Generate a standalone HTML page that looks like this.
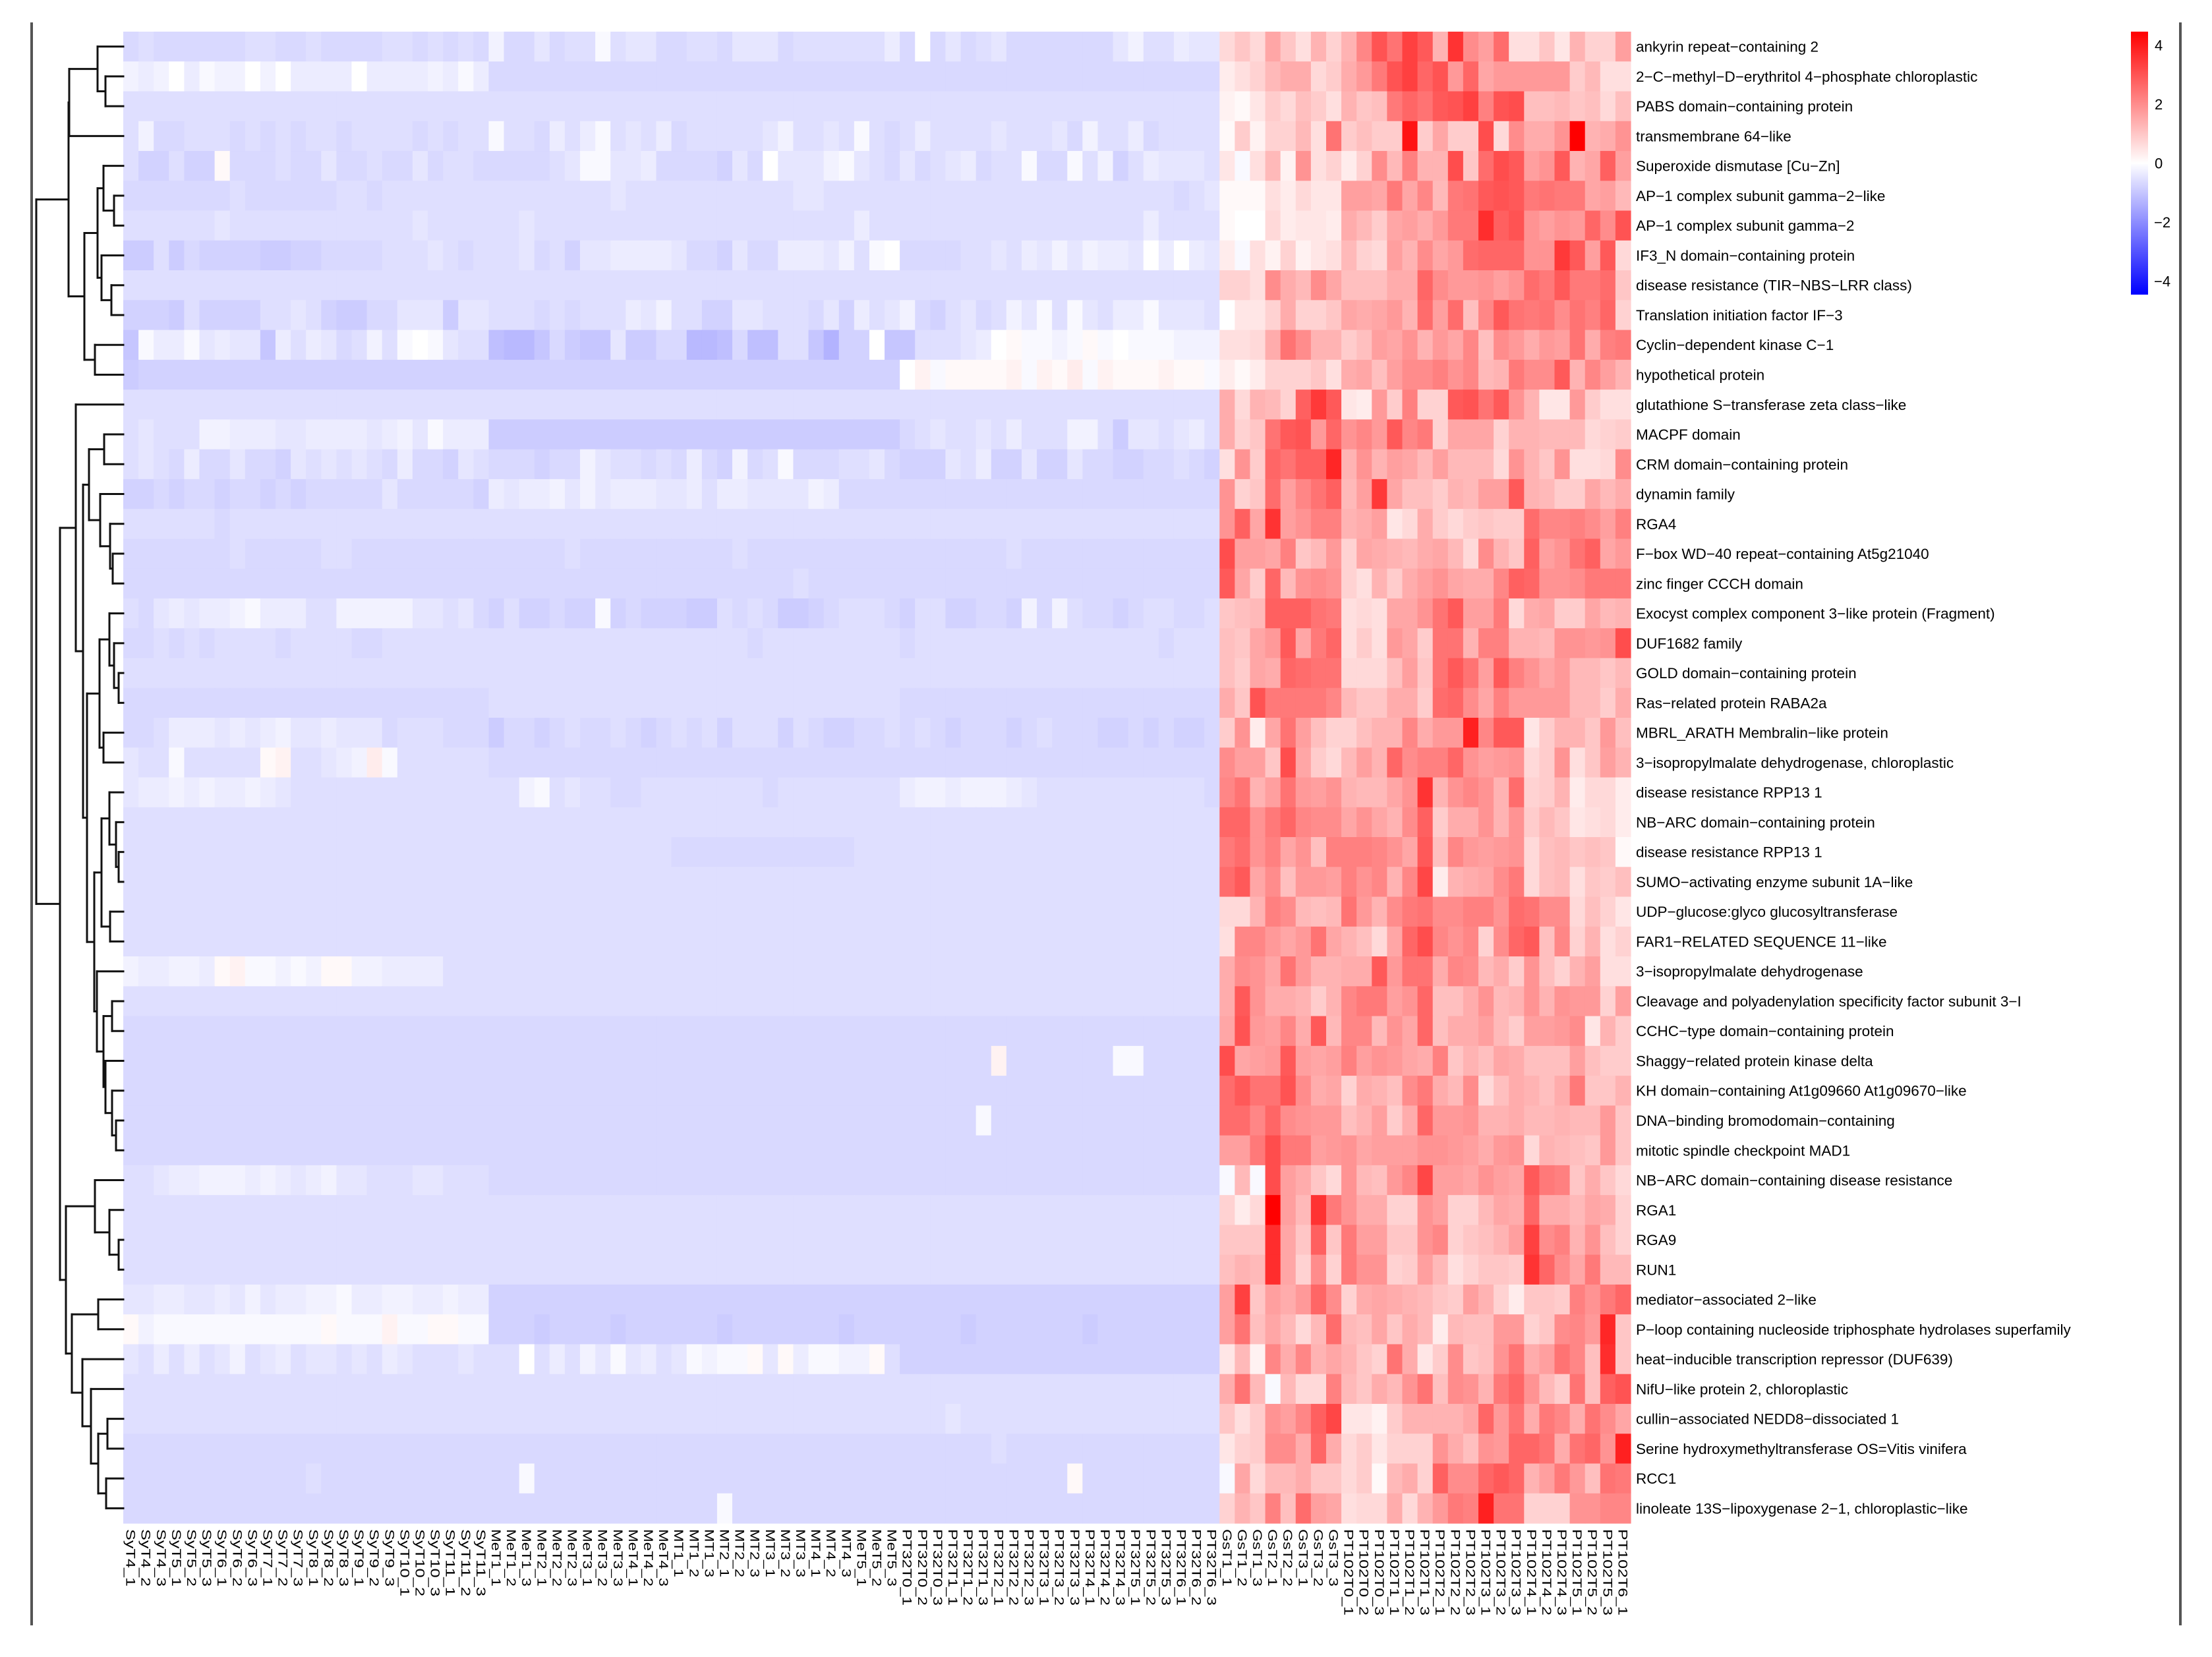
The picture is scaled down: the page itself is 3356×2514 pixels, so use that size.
<!DOCTYPE html>
<html><head><meta charset="utf-8"><style>
html,body{margin:0;padding:0;background:#fff;}
svg{display:block;font-family:"Liberation Sans",Arial,sans-serif;}
</style></head><body>
<svg id="chart" width="3356" height="2514" viewBox="0 0 3356 2514" xmlns="http://www.w3.org/2000/svg">
<rect x="0" y="0" width="3356" height="2514" fill="#fff"/>
<line x1="48" y1="34" x2="48" y2="2466" stroke="#555" stroke-width="4"/>
<line x1="3308" y1="34" x2="3308" y2="2466" stroke="#555" stroke-width="4"/>
<g id="cells"></g>
<g id="dendro"></g>
<g id="rowlabels"></g>
<g id="collabels"></g>
<g id="legend"></g>
</svg>
<script>
const rowNames = ["ankyrin repeat\u2212containing 2","2\u2212C\u2212methyl\u2212D\u2212erythritol 4\u2212phosphate chloroplastic","PABS domain\u2212containing protein","transmembrane 64\u2212like","Superoxide dismutase [Cu\u2212Zn]","AP\u22121 complex subunit gamma\u22122\u2212like","AP\u22121 complex subunit gamma\u22122","IF3_N domain\u2212containing protein","disease resistance (TIR\u2212NBS\u2212LRR class)","Translation initiation factor IF\u22123","Cyclin\u2212dependent kinase C\u22121","hypothetical protein","glutathione S\u2212transferase zeta class\u2212like","MACPF domain","CRM domain\u2212containing protein","dynamin family","RGA4","F\u2212box WD\u221240 repeat\u2212containing At5g21040","zinc finger CCCH domain","Exocyst complex component 3\u2212like protein (Fragment)","DUF1682 family","GOLD domain\u2212containing protein","Ras\u2212related protein RABA2a","MBRL_ARATH Membralin\u2212like protein","3\u2212isopropylmalate dehydrogenase, chloroplastic","disease resistance RPP13 1","NB\u2212ARC domain\u2212containing protein","disease resistance RPP13 1","SUMO\u2212activating enzyme subunit 1A\u2212like","UDP\u2212glucose:glyco glucosyltransferase","FAR1\u2212RELATED SEQUENCE 11\u2212like","3\u2212isopropylmalate dehydrogenase","Cleavage and polyadenylation specificity factor subunit 3\u2212I","CCHC\u2212type domain\u2212containing protein","Shaggy\u2212related protein kinase delta","KH domain\u2212containing At1g09660 At1g09670\u2212like","DNA\u2212binding bromodomain\u2212containing","mitotic spindle checkpoint MAD1","NB\u2212ARC domain\u2212containing disease resistance","RGA1","RGA9","RUN1","mediator\u2212associated 2\u2212like","P\u2212loop containing nucleoside triphosphate hydrolases superfamily","heat\u2212inducible transcription repressor (DUF639)","NifU\u2212like protein 2, chloroplastic","cullin\u2212associated NEDD8\u2212dissociated 1","Serine hydroxymethyltransferase OS=Vitis vinifera","RCC1","linoleate 13S\u2212lipoxygenase 2\u22121, chloroplastic\u2212like"];

const colNames = ["SyT4_1","SyT4_2","SyT4_3","SyT5_1","SyT5_2","SyT5_3","SyT6_1","SyT6_2","SyT6_3","SyT7_1","SyT7_2","SyT7_3","SyT8_1","SyT8_2","SyT8_3","SyT9_1","SyT9_2","SyT9_3","SyT10_1","SyT10_2","SyT10_3","SyT11_1","SyT11_2","SyT11_3",
"MeT1_1","MeT1_2","MeT1_3","MeT2_1","MeT2_2","MeT2_3","MeT3_1","MeT3_2","MeT3_3","MeT4_1","MeT4_2","MeT4_3",
"MT1_1","MT1_2","MT1_3","MT2_1","MT2_2","MT2_3","MT3_1","MT3_2","MT3_3","MT4_1","MT4_2","MT4_3","MeT5_1","MeT5_2","MeT5_3",
"PT32T0_1","PT32T0_2","PT32T0_3","PT32T1_1","PT32T1_2","PT32T1_3","PT32T2_1","PT32T2_2","PT32T2_3","PT32T3_1","PT32T3_2","PT32T3_3","PT32T4_1","PT32T4_2","PT32T4_3","PT32T5_1","PT32T5_2","PT32T5_3","PT32T6_1","PT32T6_2","PT32T6_3",
"GsT1_1","GsT1_2","GsT1_3","GsT2_1","GsT2_2","GsT3_1","GsT3_2","GsT3_3",
"PT102T0_1","PT102T0_2","PT102T0_3","PT102T1_1","PT102T1_2","PT102T1_3","PT102T2_1","PT102T2_2","PT102T2_3","PT102T3_1","PT102T3_2","PT102T3_3","PT102T4_1","PT102T4_2","PT102T4_3","PT102T5_1","PT102T5_2","PT102T5_3","PT102T6_1"];

const legendTicks = [4, 2, 0, -2, -4];

// z-scores x10, first 72 columns (Sy, Me, PT32 samples)
const lowVals = [
[-6,-5,-6,-6,-6,-6,-6,-6,-5,-5,-6,-6,-5,-6,-6,-6,-6,-5,-5,-6,-5,-6,-5,-6, -2,-6,-6,-4,-6,-5,-5,-1,-5,-4,-4,-6,-6,-5,-5,-6,-4,-4,-4,-6,-5,-5,-5,-5,-5,-5,-3, -6,0,-6,-4,-6,-5,-4,-6,-6,-6,-6,-6,-6,-6,-4,-2,-5,-5,-3,-4,-4],
[-2,-3,-2,0,-3,-1,-2,-2,0,-2,0,-3,-3,-3,-3,0,-3,-3,-3,-3,-2,-3,-1,-3, -6,-6,-6,-6,-6,-6,-6,-6,-6,-6,-6,-6,-6,-6,-6,-6,-6,-6,-6,-6,-6,-6,-6,-6,-6,-6,-6, -6,-6,-6,-6,-6,-6,-6,-6,-6,-6,-6,-6,-6,-6,-6,-6,-6,-6,-6,-6,-6],
[-5,-5,-5,-5,-5,-5,-5,-5,-5,-5,-5,-5,-5,-5,-5,-5,-5,-5,-5,-5,-5,-5,-5,-5, -5,-5,-5,-5,-5,-5,-5,-5,-5,-5,-5,-5,-5,-5,-5,-5,-5,-5,-5,-5,-5,-5,-5,-5,-5,-5,-5, -5,-5,-5,-5,-5,-5,-5,-5,-5,-5,-5,-5,-5,-5,-5,-5,-5,-5,-5,-5,-5],
[-5,-2,-6,-6,-5,-5,-5,-6,-5,-6,-5,-6,-5,-5,-6,-5,-5,-5,-5,-6,-5,-6,-5,-5, -1,-5,-5,-6,-3,-5,-3,-1,-5,-4,-5,-3,-6,-5,-5,-5,-5,-5,-4,-2,-5,-5,-4,-5,-1,-5,-6, -5,-3,-5,-5,-5,-5,-4,-5,-5,-5,-4,-6,-2,-5,-5,-3,-6,-5,-5,-5,-5],
[-5,-7,-7,-5,-7,-7,1,-6,-6,-6,-5,-6,-6,-4,-6,-6,-5,-6,-6,-4,-6,-5,-5,-6, -6,-6,-6,-6,-5,-4,-1,-1,-4,-4,-3,-6,-6,-6,-6,-7,-4,-6,0,-4,-4,-4,-2,-1,-4,-5,-6, -4,-6,-5,-4,-3,-6,-5,-5,-1,-6,-6,-1,-5,-2,-7,-5,-3,-4,-4,-4,-5],
[-6,-6,-6,-6,-6,-6,-6,-5,-6,-6,-6,-6,-6,-6,-5,-5,-6,-5,-5,-5,-5,-5,-5,-5, -5,-5,-5,-5,-5,-5,-5,-5,-4,-5,-5,-5,-5,-5,-5,-5,-5,-5,-5,-5,-4,-4,-5,-5,-5,-5,-5, -5,-5,-5,-5,-5,-5,-5,-5,-5,-5,-5,-5,-5,-5,-5,-5,-5,-5,-6,-5,-4],
[-5,-5,-5,-5,-5,-5,-4,-5,-5,-5,-5,-5,-5,-5,-5,-5,-5,-5,-5,-4,-5,-5,-5,-5, -5,-5,-4,-5,-5,-5,-5,-5,-5,-5,-5,-5,-5,-5,-5,-5,-5,-5,-5,-5,-5,-5,-5,-5,-3,-5,-5, -5,-5,-5,-5,-5,-5,-5,-5,-5,-5,-5,-5,-5,-5,-5,-5,-3,-5,-5,-5,-5],
[-8,-8,-5,-8,-6,-7,-7,-7,-7,-8,-8,-7,-7,-6,-6,-6,-6,-5,-5,-5,-4,-5,-6,-5, -5,-5,-4,-6,-5,-7,-4,-4,-3,-3,-3,-3,-4,-6,-6,-7,-4,-6,-6,-3,-3,-3,-4,-2,-5,-1,0, -6,-6,-6,-6,-5,-5,-4,-5,-3,-4,-2,-4,-2,-3,-3,-4,0,-3,0,-3,-4],
[-5,-5,-5,-5,-5,-5,-5,-5,-5,-5,-5,-5,-5,-5,-5,-5,-5,-5,-5,-5,-5,-5,-5,-5, -5,-5,-5,-5,-5,-5,-5,-5,-5,-5,-5,-5,-5,-5,-5,-5,-5,-5,-5,-5,-5,-5,-5,-5,-5,-5,-5, -5,-5,-5,-5,-5,-5,-5,-5,-5,-5,-5,-5,-5,-5,-5,-5,-5,-5,-5,-5,-5],
[-7,-7,-7,-8,-5,-7,-7,-7,-7,-5,-5,-4,-5,-7,-8,-8,-6,-6,-4,-4,-4,-8,-4,-4, -5,-5,-5,-6,-5,-6,-5,-5,-5,-3,-4,-2,-5,-5,-7,-7,-4,-4,-5,-5,-5,-6,-4,-7,-3,-5,-4, -2,-6,-7,-5,-4,-6,-5,-2,-4,-1,-5,-1,-4,-5,-3,-3,-1,-4,-4,-4,-5],
[-9,-1,-3,-3,-1,-4,-3,-4,-4,-9,-3,-5,-3,-4,-6,-5,-2,-5,-1,0,-1,-4,-5,-5, -10,-11,-11,-9,-6,-8,-9,-9,-4,-8,-8,-6,-6,-11,-11,-10,-6,-10,-10,-5,-5,-9,-12,-7,-7,0,-9, -9,-5,-5,-5,-4,-3,0,1,-1,-1,-2,-1,1,-1,0,-1,-1,-1,-2,-2,-2],
[-8,-7,-7,-7,-7,-7,-7,-7,-7,-7,-7,-7,-7,-7,-7,-7,-7,-7,-7,-7,-7,-7,-7,-7, -7,-7,-7,-7,-7,-7,-7,-7,-7,-7,-7,-7,-7,-7,-7,-7,-7,-7,-7,-7,-7,-7,-7,-7,-7,-7,-7, 0,2,-1,1,1,1,1,2,-1,2,1,3,-1,2,1,1,1,2,1,1,-1],
[-5,-5,-5,-5,-5,-5,-5,-5,-5,-5,-5,-5,-5,-5,-5,-5,-5,-5,-5,-5,-5,-5,-5,-5, -5,-5,-5,-5,-5,-5,-5,-5,-5,-5,-5,-5,-5,-5,-5,-5,-5,-5,-5,-5,-5,-5,-5,-5,-5,-5,-5, -5,-5,-5,-5,-5,-5,-5,-5,-5,-5,-5,-5,-5,-5,-5,-5,-5,-5,-5,-5,-5],
[-5,-4,-5,-5,-5,-2,-2,-3,-3,-3,-4,-4,-3,-3,-3,-3,-4,-3,-2,-4,-1,-3,-3,-3, -8,-8,-8,-8,-8,-8,-8,-8,-8,-8,-8,-8,-8,-8,-8,-8,-8,-8,-8,-8,-8,-8,-8,-8,-8,-8,-8, -6,-5,-4,-5,-5,-4,-5,-3,-5,-5,-5,-2,-2,-5,-8,-4,-4,-5,-4,-3,-5],
[-5,-4,-5,-6,-3,-6,-6,-4,-6,-6,-7,-4,-5,-4,-5,-4,-5,-6,-3,-6,-6,-7,-4,-5, -6,-6,-6,-7,-6,-6,-2,-4,-5,-5,-6,-5,-6,-3,-6,-7,-2,-6,-5,-1,-6,-6,-6,-5,-5,-4,-6, -7,-7,-7,-4,-5,-3,-7,-7,-4,-7,-7,-4,-6,-6,-7,-7,-6,-6,-5,-6,-7],
[-7,-7,-6,-7,-6,-6,-7,-6,-6,-7,-6,-7,-6,-6,-6,-6,-6,-4,-6,-6,-6,-6,-6,-7, -3,-4,-3,-3,-2,-4,-2,-4,-3,-3,-3,-4,-4,-3,-5,-3,-3,-4,-4,-4,-4,-2,-3,-6,-6,-6,-6, -6,-6,-6,-6,-6,-6,-6,-6,-6,-6,-6,-6,-6,-6,-6,-6,-6,-6,-6,-6,-6],
[-5,-5,-5,-5,-5,-5,-6,-5,-5,-5,-5,-5,-5,-5,-5,-5,-5,-5,-5,-5,-5,-5,-5,-5, -5,-5,-5,-5,-5,-5,-5,-5,-5,-5,-5,-5,-5,-5,-5,-5,-5,-5,-5,-5,-5,-5,-5,-5,-5,-5,-5, -5,-5,-5,-5,-5,-5,-5,-5,-5,-5,-5,-5,-5,-5,-5,-5,-5,-5,-5,-5,-5],
[-6,-6,-6,-6,-6,-6,-6,-5,-6,-6,-6,-6,-6,-5,-5,-6,-6,-6,-6,-6,-6,-6,-6,-6, -6,-6,-6,-6,-6,-5,-6,-6,-6,-6,-6,-6,-6,-6,-6,-6,-5,-6,-6,-6,-6,-6,-6,-6,-6,-6,-6, -6,-6,-6,-6,-6,-6,-6,-5,-6,-6,-6,-6,-6,-6,-6,-6,-6,-6,-6,-6,-6],
[-6,-6,-6,-6,-6,-6,-6,-6,-6,-6,-6,-6,-6,-6,-6,-6,-6,-6,-6,-6,-6,-6,-6,-6, -6,-6,-6,-6,-6,-6,-6,-6,-6,-6,-6,-6,-6,-6,-6,-6,-6,-6,-6,-6,-5,-6,-6,-6,-6,-6,-6, -6,-6,-6,-6,-6,-6,-6,-6,-6,-6,-6,-6,-6,-6,-6,-6,-6,-6,-6,-6,-6],
[-5,-6,-4,-3,-4,-3,-3,-2,-1,-3,-3,-3,-5,-5,-2,-2,-2,-2,-2,-4,-4,-5,-4,-6, -7,-5,-7,-7,-6,-7,-7,-1,-7,-6,-7,-7,-7,-8,-8,-5,-6,-5,-6,-8,-8,-7,-6,-5,-5,-5,-6, -7,-5,-5,-7,-7,-6,-6,-7,-2,-6,-2,-5,-6,-6,-7,-6,-5,-5,-6,-6,-5],
[-6,-6,-5,-6,-5,-6,-5,-5,-5,-5,-6,-5,-5,-5,-5,-6,-6,-5,-5,-5,-5,-5,-5,-5, -5,-5,-5,-5,-5,-5,-5,-5,-5,-5,-5,-5,-5,-5,-5,-5,-5,-6,-5,-5,-5,-5,-5,-5,-5,-5,-5, -6,-5,-5,-5,-5,-5,-5,-5,-5,-5,-5,-5,-5,-5,-5,-5,-5,-6,-5,-5,-5],
[-5,-5,-5,-5,-5,-5,-5,-5,-5,-5,-5,-5,-5,-5,-5,-5,-5,-5,-5,-5,-5,-5,-5,-5, -5,-5,-5,-5,-5,-5,-5,-5,-5,-5,-5,-5,-5,-5,-5,-5,-5,-5,-5,-5,-5,-5,-5,-5,-5,-5,-5, -5,-5,-5,-5,-5,-5,-5,-5,-5,-5,-5,-5,-5,-5,-5,-5,-5,-5,-5,-5,-5],
[-6,-6,-6,-6,-6,-6,-6,-6,-6,-6,-6,-6,-6,-6,-6,-6,-6,-6,-6,-6,-6,-6,-6,-6, -5,-5,-5,-5,-5,-5,-5,-5,-5,-5,-5,-5,-5,-5,-5,-5,-5,-5,-5,-5,-5,-5,-5,-5,-5,-5,-5, -6,-6,-6,-6,-6,-6,-6,-6,-6,-6,-6,-6,-6,-6,-6,-6,-6,-6,-6,-6,-6],
[-6,-6,-5,-3,-3,-3,-4,-3,-4,-3,-2,-4,-4,-3,-4,-4,-4,-6,-5,-5,-5,-6,-6,-6, -8,-6,-6,-7,-6,-5,-6,-6,-5,-6,-7,-6,-5,-6,-5,-7,-5,-5,-5,-7,-5,-6,-7,-7,-6,-6,-5, -6,-5,-6,-7,-6,-6,-6,-7,-6,-5,-6,-6,-6,-7,-7,-6,-7,-6,-7,-7,-6],
[-4,-5,-5,-1,-5,-5,-5,-5,-5,1,2,-5,-5,-4,-3,-2,3,-1,-5,-5,-5,-5,-5,-5, -6,-6,-6,-6,-6,-6,-6,-6,-6,-6,-6,-6,-6,-6,-6,-6,-6,-6,-6,-6,-6,-6,-6,-6,-6,-6,-6, -6,-6,-6,-6,-6,-6,-6,-6,-6,-6,-6,-6,-6,-6,-6,-6,-6,-6,-6,-6,-6],
[-4,-3,-3,-2,-3,-2,-3,-3,-2,-3,-4,-5,-5,-5,-5,-5,-5,-5,-5,-5,-5,-5,-5,-5, -5,-5,-2,-1,-5,-4,-5,-5,-6,-6,-5,-5,-5,-5,-5,-5,-5,-5,-6,-5,-5,-5,-5,-5,-5,-5,-5, -3,-2,-2,-3,-2,-2,-2,-3,-4,-5,-5,-5,-5,-5,-5,-5,-5,-5,-5,-5,-6],
[-5,-5,-5,-5,-5,-5,-5,-5,-5,-5,-5,-5,-5,-5,-5,-5,-5,-5,-5,-5,-5,-5,-5,-5, -5,-5,-5,-5,-5,-5,-5,-5,-5,-5,-5,-5,-5,-5,-5,-5,-5,-5,-5,-5,-5,-5,-5,-5,-5,-5,-5, -5,-5,-5,-5,-5,-5,-5,-5,-5,-5,-5,-5,-5,-5,-5,-5,-5,-5,-5,-5,-5],
[-5,-5,-5,-5,-5,-5,-5,-5,-5,-5,-5,-5,-5,-5,-5,-5,-5,-5,-5,-5,-5,-5,-5,-5, -5,-5,-5,-5,-5,-5,-5,-5,-5,-5,-5,-5,-6,-6,-6,-6,-6,-6,-6,-6,-6,-6,-6,-6,-5,-5,-5, -5,-5,-5,-5,-5,-5,-5,-5,-5,-5,-5,-5,-5,-5,-5,-5,-5,-5,-5,-5,-5],
[-5,-5,-5,-5,-5,-5,-5,-5,-5,-5,-5,-5,-5,-5,-5,-5,-5,-5,-5,-5,-5,-5,-5,-5, -5,-5,-5,-5,-5,-5,-5,-5,-5,-5,-5,-5,-5,-5,-5,-5,-5,-5,-5,-5,-5,-5,-5,-5,-5,-5,-5, -5,-5,-5,-5,-5,-5,-5,-5,-5,-5,-5,-5,-5,-5,-5,-5,-5,-5,-5,-5,-5],
[-5,-5,-5,-5,-5,-5,-5,-5,-5,-5,-5,-5,-5,-5,-5,-5,-5,-5,-5,-5,-5,-5,-5,-5, -5,-5,-5,-5,-5,-5,-5,-5,-5,-5,-5,-5,-5,-5,-5,-5,-5,-5,-5,-5,-5,-5,-5,-5,-5,-5,-5, -5,-5,-5,-5,-5,-5,-5,-5,-5,-5,-5,-5,-5,-5,-5,-5,-5,-5,-5,-5,-5],
[-5,-5,-5,-5,-5,-5,-5,-5,-5,-5,-5,-5,-5,-5,-5,-5,-5,-5,-5,-5,-5,-5,-5,-5, -5,-5,-5,-5,-5,-5,-5,-5,-5,-5,-5,-5,-5,-5,-5,-5,-5,-5,-5,-5,-5,-5,-5,-5,-5,-5,-5, -5,-5,-5,-5,-5,-5,-5,-5,-5,-5,-5,-5,-5,-5,-5,-5,-5,-5,-5,-5,-5],
[-2,-3,-3,-2,-2,-3,1,2,-1,-1,-2,-1,-2,1,1,-2,-2,-3,-3,-3,-3,-5,-5,-5, -5,-5,-5,-5,-5,-5,-5,-5,-5,-5,-5,-5,-5,-5,-5,-5,-5,-5,-5,-5,-5,-5,-5,-5,-5,-5,-5, -5,-5,-5,-5,-5,-5,-5,-5,-5,-5,-5,-5,-5,-5,-5,-5,-5,-5,-5,-5,-5],
[-5,-5,-5,-5,-5,-5,-5,-5,-5,-5,-5,-5,-5,-5,-5,-5,-5,-5,-5,-5,-5,-5,-5,-5, -5,-5,-5,-5,-5,-5,-5,-5,-5,-5,-5,-5,-5,-5,-5,-5,-5,-5,-5,-5,-5,-5,-5,-5,-5,-5,-5, -5,-5,-5,-5,-5,-5,-5,-5,-5,-5,-5,-5,-5,-5,-5,-5,-5,-5,-5,-5,-5],
[-6,-6,-6,-6,-6,-6,-6,-6,-6,-6,-6,-6,-6,-6,-6,-6,-6,-6,-6,-6,-6,-6,-6,-6, -6,-6,-6,-6,-6,-6,-6,-6,-6,-6,-6,-6,-6,-6,-6,-6,-6,-6,-6,-6,-6,-6,-6,-6,-6,-6,-6, -6,-6,-6,-6,-6,-6,-6,-6,-6,-6,-6,-6,-6,-6,-6,-6,-6,-6,-6,-6,-6],
[-6,-6,-6,-6,-6,-6,-6,-6,-6,-6,-6,-6,-6,-6,-6,-6,-6,-6,-6,-6,-6,-6,-6,-6, -6,-6,-6,-6,-6,-6,-6,-6,-6,-6,-6,-6,-6,-6,-6,-6,-6,-6,-6,-6,-6,-6,-6,-6,-6,-6,-6, -6,-6,-6,-6,-6,-6,2,-6,-6,-6,-6,-6,-6,-6,-1,-1,-6,-6,-6,-6,-6],
[-6,-6,-6,-6,-6,-6,-6,-6,-6,-6,-6,-6,-6,-6,-6,-6,-6,-6,-6,-6,-6,-6,-6,-6, -6,-6,-6,-6,-6,-6,-6,-6,-6,-6,-6,-6,-6,-6,-6,-6,-6,-6,-6,-6,-6,-6,-6,-6,-6,-6,-6, -6,-6,-6,-6,-6,-6,-6,-6,-6,-6,-6,-6,-6,-6,-6,-6,-6,-6,-6,-6,-6],
[-6,-6,-6,-6,-6,-6,-6,-6,-6,-6,-6,-6,-6,-6,-6,-6,-6,-6,-6,-6,-6,-6,-6,-6, -6,-6,-6,-6,-6,-6,-6,-6,-6,-6,-6,-6,-6,-6,-6,-6,-6,-6,-6,-6,-6,-6,-6,-6,-6,-6,-6, -6,-6,-6,-6,-6,-1,-6,-6,-6,-6,-6,-6,-6,-6,-6,-6,-6,-6,-6,-6,-6],
[-6,-6,-6,-6,-6,-6,-6,-6,-6,-6,-6,-6,-6,-6,-6,-6,-6,-6,-6,-6,-6,-6,-6,-6, -6,-6,-6,-6,-6,-6,-6,-6,-6,-6,-6,-6,-6,-6,-6,-6,-6,-6,-6,-6,-6,-6,-6,-6,-6,-6,-6, -6,-6,-6,-6,-6,-6,-6,-6,-6,-6,-6,-6,-6,-6,-6,-6,-6,-6,-6,-6,-6],
[-5,-5,-4,-3,-3,-2,-2,-2,-3,-2,-3,-4,-3,-2,-4,-4,-5,-5,-5,-4,-4,-5,-5,-5, -6,-6,-6,-6,-6,-6,-6,-6,-6,-6,-6,-6,-6,-6,-6,-6,-6,-6,-6,-6,-6,-6,-6,-6,-6,-6,-6, -6,-6,-6,-6,-6,-6,-6,-6,-6,-6,-6,-6,-6,-6,-6,-6,-6,-6,-6,-6,-6],
[-5,-5,-5,-5,-5,-5,-5,-5,-5,-5,-5,-5,-5,-5,-5,-5,-5,-5,-5,-5,-5,-5,-5,-5, -5,-5,-5,-5,-5,-5,-5,-5,-5,-5,-5,-5,-5,-5,-5,-5,-5,-5,-5,-5,-5,-5,-5,-5,-5,-5,-5, -5,-5,-5,-5,-5,-5,-5,-5,-5,-5,-5,-5,-5,-5,-5,-5,-5,-5,-5,-5,-5],
[-5,-5,-5,-5,-5,-5,-5,-5,-5,-5,-5,-5,-5,-5,-5,-5,-5,-5,-5,-5,-5,-5,-5,-5, -5,-5,-5,-5,-5,-5,-5,-5,-5,-5,-5,-5,-5,-5,-5,-5,-5,-5,-5,-5,-5,-5,-5,-5,-5,-5,-5, -5,-5,-5,-5,-5,-5,-5,-5,-5,-5,-5,-5,-5,-5,-5,-5,-5,-5,-5,-5,-5],
[-5,-5,-5,-5,-5,-5,-5,-5,-5,-5,-5,-5,-5,-5,-5,-5,-5,-5,-5,-5,-5,-5,-5,-5, -5,-5,-5,-5,-5,-5,-5,-5,-5,-5,-5,-5,-5,-5,-5,-5,-5,-5,-5,-5,-5,-5,-5,-5,-5,-5,-5, -5,-5,-5,-5,-5,-5,-5,-5,-5,-5,-5,-5,-5,-5,-5,-5,-5,-5,-5,-5,-5],
[-4,-4,-3,-3,-4,-4,-3,-4,-2,-4,-3,-3,-2,-2,-1,-3,-3,-2,-2,-3,-3,-2,-3,-3, -7,-7,-7,-7,-7,-7,-7,-7,-7,-7,-7,-7,-7,-7,-7,-7,-7,-7,-7,-7,-7,-7,-7,-7,-7,-7,-7, -7,-7,-7,-7,-7,-7,-7,-7,-7,-7,-7,-7,-7,-7,-7,-7,-7,-7,-7,-7,-7],
[1,-2,-1,-1,-1,-1,-1,-1,-1,-1,-1,-1,-1,1,-1,-1,-1,2,-1,-1,1,1,-1,-1, -7,-7,-7,-8,-7,-7,-7,-7,-8,-7,-7,-7,-7,-7,-7,-8,-7,-7,-7,-7,-7,-7,-7,-8,-7,-7,-7, -7,-7,-7,-7,-8,-7,-7,-7,-7,-7,-7,-7,-8,-7,-7,-7,-7,-7,-7,-7,-7],
[-4,-5,-3,-5,-3,-5,-4,-2,-5,-4,-3,-5,-4,-4,-5,-4,-5,-3,-4,-5,-5,-5,-4,-5, -5,-5,0,-5,-3,-5,-2,-4,-1,-4,-3,-5,-4,-1,-2,-1,-1,1,-4,1,-3,-1,-1,-2,-2,1,-5, -7,-7,-7,-7,-7,-7,-7,-7,-7,-7,-7,-7,-7,-7,-7,-7,-7,-7,-7,-7,-7],
[-5,-5,-5,-5,-5,-5,-5,-5,-5,-5,-5,-5,-5,-5,-5,-5,-5,-5,-5,-5,-5,-5,-5,-5, -5,-5,-5,-5,-5,-5,-5,-5,-5,-5,-5,-5,-5,-5,-5,-5,-5,-5,-5,-5,-5,-5,-5,-5,-5,-5,-5, -5,-5,-5,-5,-5,-5,-5,-5,-5,-5,-5,-5,-5,-5,-5,-5,-5,-5,-5,-5,-5],
[-5,-5,-5,-5,-5,-5,-5,-5,-5,-5,-5,-5,-5,-5,-5,-5,-5,-5,-5,-5,-5,-5,-5,-5, -5,-5,-5,-5,-5,-5,-5,-5,-5,-5,-5,-5,-5,-5,-5,-5,-5,-5,-5,-5,-5,-5,-5,-5,-5,-5,-5, -5,-5,-5,-4,-5,-5,-5,-5,-5,-5,-5,-5,-5,-5,-5,-5,-5,-5,-5,-5,-5],
[-6,-6,-6,-6,-6,-6,-6,-6,-6,-6,-6,-6,-6,-6,-6,-6,-6,-6,-6,-6,-6,-6,-6,-6, -6,-6,-6,-6,-6,-6,-6,-6,-6,-6,-6,-6,-6,-6,-6,-6,-6,-6,-6,-6,-6,-6,-6,-6,-6,-6,-6, -6,-6,-6,-6,-6,-6,-5,-6,-6,-6,-6,-6,-6,-6,-6,-6,-6,-6,-6,-6,-6],
[-6,-6,-6,-6,-6,-6,-6,-6,-6,-6,-6,-6,-5,-6,-6,-6,-6,-6,-6,-6,-6,-6,-6,-6, -6,-6,-1,-6,-6,-6,-6,-6,-6,-6,-6,-6,-6,-6,-6,-6,-6,-6,-6,-6,-6,-6,-6,-6,-6,-6,-6, -6,-6,-6,-6,-6,-6,-6,-6,-6,-6,-6,1,-6,-6,-6,-6,-6,-6,-6,-6,-6],
[-6,-6,-6,-6,-6,-6,-6,-6,-6,-6,-6,-6,-6,-6,-6,-6,-6,-6,-6,-6,-6,-6,-6,-6, -6,-6,-6,-6,-6,-6,-6,-6,-6,-6,-6,-6,-6,-6,-6,-1,-6,-6,-6,-6,-6,-6,-6,-6,-6,-6,-6, -6,-6,-6,-6,-6,-6,-6,-6,-6,-6,-6,-6,-6,-6,-6,-6,-6,-6,-6,-6,-6]
];

// z-scores x10, last 27 columns (Gs, PT102 samples)
const highVals = [
[6,9,6,14,9,5,12,7,12,19,27,22,30,26,12,32,18,15,23,5,5,9,4,12,7,7,15],
[3,5,7,11,13,13,6,8,13,16,21,27,30,24,27,16,24,14,16,16,16,16,16,8,11,5,5],
[2,1,4,8,6,10,8,5,12,9,10,21,24,22,26,27,30,20,27,28,10,10,11,9,10,6,10],
[1,8,2,7,7,11,5,22,8,10,8,8,37,8,14,8,8,28,6,18,13,13,17,40,12,13,17],
[4,-1,5,11,2,17,5,7,3,7,18,11,20,12,12,28,9,23,28,26,15,17,26,12,14,25,15],
[1,1,1,5,3,6,4,4,15,15,14,21,14,19,11,21,22,26,27,26,21,22,21,21,14,15,11],
[1,0,0,6,3,4,4,3,13,11,8,14,15,13,16,21,21,33,25,27,17,15,17,16,24,18,27],
[3,-1,5,2,7,2,4,5,11,7,6,15,12,18,14,16,23,24,24,24,17,17,31,26,15,26,6],
[7,7,5,18,13,11,18,14,10,10,10,13,13,24,18,16,16,17,15,17,23,21,26,21,21,23,9],
[0,4,4,7,13,7,7,9,14,13,14,16,12,23,15,23,10,19,26,22,21,22,18,22,20,24,7],
[5,5,6,13,22,18,12,12,8,10,15,14,17,12,16,14,19,10,18,16,13,16,15,22,13,20,21],
[3,1,3,7,7,7,9,5,13,14,10,15,18,18,20,17,19,11,12,21,18,18,26,12,19,15,12],
[13,6,12,11,7,25,31,26,4,3,16,8,20,7,7,26,27,22,26,17,12,4,4,16,8,5,5],
[13,7,9,22,26,27,16,24,17,19,16,26,19,21,7,14,14,14,7,12,12,11,11,11,6,7,8],
[5,17,8,24,22,25,25,34,12,17,12,15,14,11,15,11,11,11,6,17,12,9,17,5,5,6,18],
[17,7,9,23,15,19,22,25,11,15,31,14,10,10,8,12,11,15,15,26,12,11,8,8,14,11,13],
[17,25,14,32,15,17,20,20,12,13,15,4,6,13,8,6,8,9,8,8,23,19,19,20,18,15,20],
[28,15,15,14,20,9,11,16,7,14,13,12,11,13,14,11,6,18,12,9,25,15,17,22,25,14,16],
[26,14,8,24,11,17,18,17,7,5,12,8,13,15,17,14,13,13,19,25,24,17,17,18,21,21,21],
[9,10,11,25,25,25,22,21,5,6,5,14,14,17,22,26,15,15,21,6,13,14,8,8,14,11,12],
[10,9,14,16,26,14,21,24,5,8,5,16,14,8,22,22,12,20,20,12,12,11,17,17,16,17,28],
[10,8,14,13,24,23,22,22,6,6,6,10,15,9,22,26,22,15,26,20,17,14,16,11,11,9,11],
[13,9,27,21,21,21,21,19,11,9,9,13,13,8,23,24,18,14,20,16,16,16,16,11,11,8,13],
[8,17,3,14,22,15,10,7,7,10,12,12,19,13,16,16,35,19,26,26,4,8,12,12,9,16,10],
[18,15,15,9,28,14,8,6,11,15,12,24,18,20,20,24,17,15,16,17,6,8,17,5,9,15,12],
[19,22,12,15,22,16,15,17,12,11,11,14,17,32,12,17,19,17,12,23,7,8,12,3,6,6,3],
[24,24,17,21,24,19,18,18,14,17,14,12,18,25,8,13,13,17,12,17,8,11,9,4,5,6,3],
[21,23,17,20,14,17,10,20,20,20,19,17,14,26,10,19,16,15,16,17,6,10,11,9,10,9,1],
[23,26,14,18,10,16,16,15,20,17,19,12,19,29,3,12,13,14,18,21,6,10,11,5,9,8,10],
[6,6,12,20,18,11,10,11,22,16,12,18,21,22,18,18,20,20,17,23,22,18,18,6,10,7,4],
[5,19,19,16,14,16,22,14,12,10,6,14,24,28,19,17,19,7,18,24,26,10,19,7,12,5,7],
[13,18,17,14,22,16,12,12,13,13,26,16,22,22,13,19,18,11,13,8,17,10,7,12,15,5,5],
[13,26,17,13,13,12,8,12,19,21,21,15,17,24,10,10,13,17,11,12,17,12,17,16,16,7,15],
[14,27,16,15,19,13,26,11,19,19,11,17,14,24,10,13,13,15,11,8,15,15,16,18,4,12,8],
[28,14,15,16,26,15,14,15,20,15,17,16,14,13,20,9,12,10,14,13,10,10,10,15,10,8,8],
[23,26,22,22,27,18,13,14,7,13,12,10,18,21,13,11,18,6,10,13,12,10,13,21,9,9,12],
[23,23,19,24,18,17,16,16,10,12,15,8,13,24,16,16,17,12,12,13,11,11,12,11,11,16,9],
[15,15,21,28,21,21,15,16,17,14,15,15,15,17,17,16,15,13,16,17,6,12,11,10,9,16,9],
[-1,11,-1,28,15,13,9,6,17,11,10,16,19,29,15,15,14,17,15,14,26,21,20,9,13,9,6],
[7,3,6,40,15,11,32,21,17,13,13,7,7,17,15,7,7,11,14,13,24,13,13,11,14,13,7],
[9,9,9,33,14,9,25,9,21,15,15,9,9,17,19,7,9,10,12,15,30,18,20,12,17,10,7],
[10,12,11,33,14,7,18,7,21,17,17,7,8,15,11,5,7,9,9,8,32,24,18,14,21,11,11],
[15,30,9,15,13,16,24,18,7,13,14,13,12,11,9,8,15,12,7,3,9,9,8,20,17,21,24],
[15,22,10,14,11,6,11,23,11,10,14,9,13,11,3,11,10,10,16,16,7,9,18,19,16,34,9],
[4,11,2,19,13,19,12,14,12,9,7,22,13,4,8,18,9,10,17,22,13,15,22,19,10,33,9],
[13,22,11,-1,11,6,6,20,11,9,13,11,17,22,10,18,17,12,21,24,17,11,8,22,10,25,27],
[9,5,8,17,15,19,25,29,4,4,2,8,12,12,12,12,14,24,16,22,13,21,19,13,22,18,14],
[4,7,8,18,18,13,24,13,6,8,4,7,7,7,17,13,10,17,16,24,24,22,13,22,24,17,35],
[-1,14,6,11,11,13,9,9,6,8,1,11,13,7,25,18,18,24,26,24,12,15,21,16,10,22,21],
[7,12,9,20,10,23,15,14,5,6,6,13,6,12,16,21,20,35,22,22,7,7,7,17,17,19,19]
];

// row dendrogram: [mergeX, left, right], leaves are row indices
const treeTop = [104, [105, [148, 0, [160, 1, 2]], 3],
  [128, [148, [157, 4, [173, 5, 6]], [154, 7, [169, 8, 9]]], [144, 10, 11]]];
const treeE = [115, 12, [126, [135, [158, 13, 14], [152, 15, [167, 16, [171, 17, 18]]]],
  [132, [151, [166, 19, [173, 20, [180, 21, 22]]], [157, 23, 24]],
    [143, [154, [166, 25, [176, 26, [180, 27, 28]]], [167, 29, 30]],
      [147, 31, [157, [170, 32, 33], [160, 34, [170, 35, [176, 36, 37]]]]]]]]];
const treeF = [100, [144, 38, [166, 39, [180, 40, 41]]],
  [109, [149, 42, 43], [125, 44, [138, 45, [149, [163, 46, 47], [161, 48, 49]]]]]];
const treeRoot = [55, treeTop, [91, treeE, treeF]];

const NS = "http://www.w3.org/2000/svg";
const X0 = 187, X1 = 2474, Y0 = 48, Y1 = 2311;
const nRows = rowNames.length, nCols = colNames.length;
const cw = (X1 - X0) / nCols, rh = (Y1 - Y0) / nRows;
function xPos(c){ return X0 + c * cw; }
function yPos(r){ return Y0 + r * rh; }
function color(v){
  v = Math.max(-4, Math.min(4, v));
  if (v >= 0){ const g = Math.round(255 * (1 - v / 4)); return `rgb(255,${g},${g})`; }
  const g = Math.round(255 * (1 + v / 4)); return `rgb(${g},${g},255)`;
}

const cells = document.getElementById('cells');
for (let r = 0; r < nRows; r++){
  const rowVals = lowVals[r].concat(highVals[r]);
  for (let c = 0; c < nCols && c < rowVals.length; c++){
    const rect = document.createElementNS(NS, 'rect');
    rect.setAttribute('x', xPos(c).toFixed(2));
    rect.setAttribute('y', yPos(r).toFixed(2));
    rect.setAttribute('width', (cw + 0.6).toFixed(2));
    rect.setAttribute('height', (rh + 0.6).toFixed(2));
    rect.setAttribute('fill', color(rowVals[c] / 10));
    
    
    cells.appendChild(rect);
  }
}

const dendro = document.getElementById('dendro');
function line(x1, y1, x2, y2){
  const l = document.createElementNS(NS, 'line');
  l.setAttribute('x1', x1); l.setAttribute('y1', y1);
  l.setAttribute('x2', x2); l.setAttribute('y2', y2);
  l.setAttribute('stroke', '#111'); l.setAttribute('stroke-width', '3');
  l.setAttribute('stroke-linecap', 'square');
  
  
  dendro.appendChild(l);
}
function drawNode(n){
  if (typeof n === 'number') return { x: X0, y: yPos(n) + rh / 2 };
  const a = drawNode(n[1]), b = drawNode(n[2]);
  const x = n[0];
  line(x, a.y, a.x, a.y);
  line(x, b.y, b.x, b.y);
  line(x, a.y, x, b.y);
  return { x: x, y: (a.y + b.y) / 2 };
}
drawNode(treeRoot);

const rl = document.getElementById('rowlabels');
rowNames.forEach((name, r) => {
  const t = document.createElementNS(NS, 'text');
  t.setAttribute('x', 2482);
  t.setAttribute('y', (yPos(r) + rh / 2 + 8).toFixed(1));
  t.setAttribute('font-size', '22.5');
  t.setAttribute('fill', '#000');
  
  
  t.textContent = name;
  rl.appendChild(t);
});

const cl = document.getElementById('collabels');
colNames.forEach((name, c) => {
  const cx = xPos(c) + cw / 2 - 7;
  const t = document.createElementNS(NS, 'text');
  t.setAttribute('transform', `translate(${cx.toFixed(1)},2320) rotate(90)`);
  t.setAttribute('font-size', '19');
  t.setAttribute('fill', '#000');
  t.setAttribute('textLength', (name.length * 14.5).toFixed(0));
  t.setAttribute('lengthAdjust', 'spacingAndGlyphs');
  
  
  t.textContent = name;
  cl.appendChild(t);
});

const lg = document.getElementById('legend');
const defs = document.createElementNS(NS, 'defs');
defs.innerHTML = '<linearGradient id="cbar" x1="0" y1="0" x2="0" y2="1"><stop offset="0" stop-color="#ff0000"/><stop offset="0.5" stop-color="#ffffff"/><stop offset="1" stop-color="#0000ff"/></linearGradient>';
lg.appendChild(defs);
const LB0 = 48, LB1 = 447, LMID = (LB0 + LB1) / 2, LSCALE = 179 / 4;
const bar = document.createElementNS(NS, 'rect');
bar.setAttribute('x', 3233); bar.setAttribute('y', LB0);
bar.setAttribute('width', 26); bar.setAttribute('height', LB1 - LB0);
bar.setAttribute('fill', 'url(#cbar)');


lg.appendChild(bar);
legendTicks.forEach(v => {
  const t = document.createElementNS(NS, 'text');
  t.setAttribute('x', v < 0 ? 3268 : 3269);
  t.setAttribute('y', (LMID - v * LSCALE + 8).toFixed(1));
  t.setAttribute('font-size', '22');
  t.setAttribute('fill', '#000');
  
  
  t.textContent = v < 0 ? '\u2212' + Math.abs(v) : String(v);
  lg.appendChild(t);
});
</script>
</body></html>
